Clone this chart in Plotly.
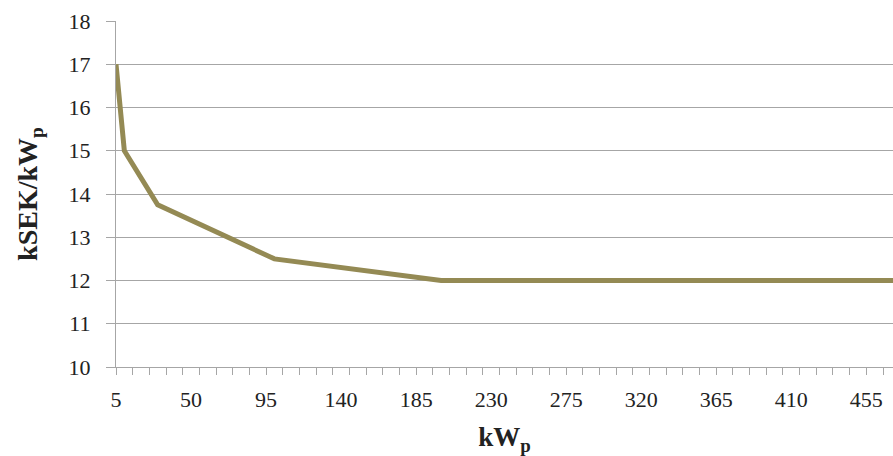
import plotly.graph_objects as go

kwp = [5, 6, 7, 8, 9, 10, 30, 100, 200, 471]
cost = [17.0, 16.6, 16.15, 15.6, 15.2, 15.0, 13.75, 12.5, 12.0, 12.0]

x_ticks = [5, 50, 95, 140, 185, 230, 275, 320, 365, 410, 455]
y_ticks = [10, 11, 12, 13, 14, 15, 16, 17, 18]

FONT = "Liberation Serif"
GRID = "#a6a6a6"

fig = go.Figure()
fig.add_trace(go.Scatter(
    x=kwp, y=cost, mode="lines",
    line=dict(color="#948a54", width=5),
    hoverinfo="x+y", showlegend=False,
))

fig.update_layout(
    width=893, height=456,
    margin=dict(l=116, r=0, t=21, b=89),
    paper_bgcolor="white", plot_bgcolor="white",
    font=dict(family=FONT, size=22, color="#222222"),
    xaxis=dict(
        range=[5, 471],
        tickvals=x_ticks, ticktext=[str(v) for v in x_ticks],
        ticks="", showgrid=False, zeroline=False,
        showline=True, linecolor=GRID, linewidth=1.3,
        minor=dict(tick0=5, dtick=10, ticks="outside", ticklen=7,
                   tickcolor=GRID, tickwidth=1.3, showgrid=False),
        ticklabelstandoff=12,
        title=dict(text="<b>kW<sub>p</sub></b>", font=dict(family=FONT, size=27),
                   standoff=23),
    ),
    yaxis=dict(
        range=[10, 18],
        tickvals=y_ticks,
        ticks="outside", ticklen=9, tickcolor=GRID, tickwidth=1.3,
        showgrid=True, gridcolor=GRID, gridwidth=1.3, zeroline=False,
        showline=True, linecolor=GRID, linewidth=1.3,
        ticklabelstandoff=11,
        title=dict(text="<b>kSEK/kW<sub>p</sub></b>", font=dict(family=FONT, size=28),
                   standoff=22),
    ),
)

fig.write_html(
    "out.html",
    config={"displayModeBar": False},
    post_script="document.body.style.margin='0';document.body.style.overflow='hidden';",
)
